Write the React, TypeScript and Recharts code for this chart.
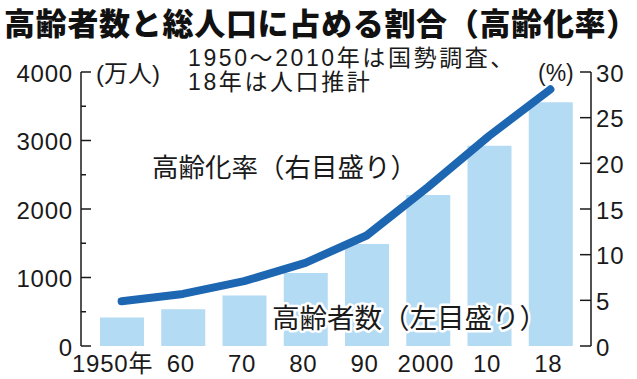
import { ComposedChart, Bar, Line, XAxis, YAxis } from "recharts";

const years = ["1950年", "60", "70", "80", "90", "2000", "10", "18"];
const elderly = [416, 535, 739, 1065, 1489, 2204, 2925, 3557];
const agingRate = [4.9, 5.7, 7.1, 9.1, 12.1, 17.4, 23.0, 28.1];
const leftTicks = [0, 500, 1000, 1500, 2000, 2500, 3000, 3500, 4000];
const rightTicks = [0, 5, 10, 15, 20, 25, 30];

const data = years.map((y, i) => ({ year: y, elderly: elderly[i], rate: agingRate[i] }));

const FONT = "'Liberation Sans', 'Noto Sans CJK JP', sans-serif";
const JP = "'Noto Sans CJK JP', sans-serif";
const INK = "#1a1a1a";

const LeftTick = ({ x, y, payload }: any) => {
  const major = payload.value % 1000 === 0;
  return (
    <g>
      <line x1={x} x2={x + (major ? 10 : 5)} y1={y} y2={y} stroke={INK} strokeWidth={1.5} />
      {major && (
        <text x={x - 8} y={y + 1} textAnchor="end" dominantBaseline="central"
          fontSize={24} letterSpacing={0.8} fill={INK} fontFamily={FONT}>
          {payload.value}
        </text>
      )}
    </g>
  );
};

const RightTick = ({ x, y, payload }: any) => (
  <g>
    <line x1={x} x2={x - 11} y1={y} y2={y} stroke={INK} strokeWidth={1.5} />
    <text x={x + 5} y={y + 1} textAnchor="start" dominantBaseline="central"
      fontSize={24} letterSpacing={0.8} fill={INK} fontFamily={FONT}>
      {payload.value}
    </text>
  </g>
);

const BottomTick = ({ x, y, payload }: any) => (
  <text x={payload.index === 0 ? x - 9 : x - 2} y={y + 17} textAnchor="middle"
    dominantBaseline="central" fontSize={24} letterSpacing={0.8} fill={INK} fontFamily={FONT}>
    {payload.value}
  </text>
);

export default function App() {
  return (
    <div style={{ position: "absolute", left: 0, top: 0, width: 637, height: 379, background: "#fff" }}>
      <ComposedChart width={637} height={379} data={data}
        margin={{ top: 72, right: 0, left: 0, bottom: 0 }}>
        <XAxis dataKey="year" height={33} axisLine={false} tickLine={false} tickSize={0}
          tickMargin={0} padding={{ left: 10, right: 10 }} tick={<BottomTick />} interval={0} />
        <YAxis yAxisId="left" orientation="left" width={81} domain={[0, 4000]} ticks={leftTicks}
          interval={0} tickSize={0} tickMargin={0} tickLine={false}
          axisLine={{ stroke: INK, strokeWidth: 1.5 }} tick={<LeftTick />} />
        <YAxis yAxisId="right" orientation="right" width={46} domain={[0, 30]} ticks={rightTicks}
          interval={0} tickSize={0} tickMargin={0} tickLine={false}
          axisLine={{ stroke: INK, strokeWidth: 1.5 }} tick={<RightTick />} />
        <Bar yAxisId="left" dataKey="elderly" fill="#b3dbf3" barSize={44} isAnimationActive={false} />
        <Line yAxisId="right" dataKey="rate" type="linear" stroke="#1d66b2" strokeWidth={8}
          strokeLinecap="round" strokeLinejoin="round" dot={false} isAnimationActive={false} />
      </ComposedChart>

      {/* 見出しと注記 */}
      <svg width={637} height={379} style={{ position: "absolute", left: 0, top: 0, pointerEvents: "none" }}>
        <text x={4} y={21} dominantBaseline="central" fontSize={31} fontWeight={900}
          letterSpacing={0.7} fill="#111" fontFamily={JP}>
          高齢者数と総人口に占める割合（高齢化率）
        </text>
        <text x={188} y={58} dominantBaseline="central" fontSize={23} letterSpacing={2.6}
          fill={INK} fontFamily={FONT}>
          1950～2010年は国勢調査、
        </text>
        <text x={188} y={82} dominantBaseline="central" fontSize={23} letterSpacing={2.6}
          fill={INK} fontFamily={FONT}>
          18年は人口推計
        </text>
        <text x={96} y={73} dominantBaseline="central" fontSize={24} fill={INK} fontFamily={FONT}>
          (万人)
        </text>
        <text x={538} y={73} dominantBaseline="central" fontSize={23} fill={INK} fontFamily={FONT}>
          (%)
        </text>
        <text x={152} y={165} dominantBaseline="central" fontSize={26.5} fill={INK} fontFamily={JP}>
          高齢化率（右目盛り）
        </text>
        <text x={272} y={316} dominantBaseline="central" fontSize={27.5} fill={INK}
          stroke="#fff" strokeWidth={5} paintOrder="stroke" strokeLinejoin="round" fontFamily={JP}>
          高齢者数（左目盛り）
        </text>
      </svg>
    </div>
  );
}
